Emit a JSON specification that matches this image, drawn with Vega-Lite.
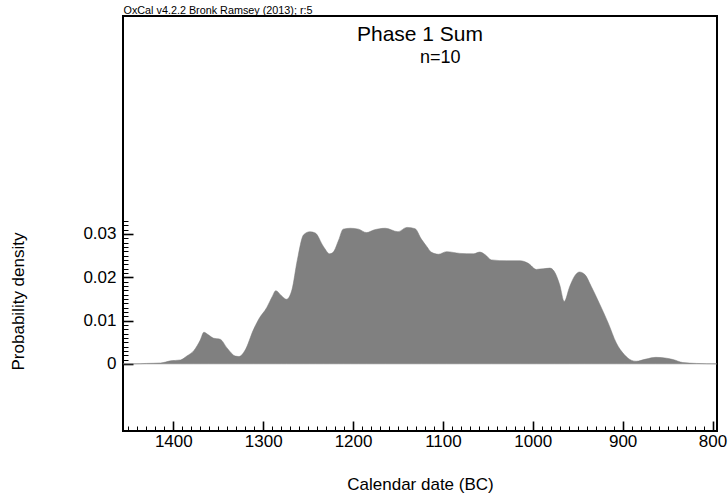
{
  "$schema": "https://vega.github.io/schema/vega-lite/v6.json",
  "width": 594,
  "height": 415,
  "autosize": {"type": "none"},
  "padding": {"left": 123, "top": 16, "right": 11, "bottom": 66},
  "background": "white",
  "config": {
    "font": "Liberation Sans",
    "view": {"stroke": "black", "strokeWidth": 2},
    "axis": {"grid": false, "labelColor": "black", "titleColor": "black", "tickColor": "black", "domain": false, "labelFont": "Liberation Sans", "titleFont": "Liberation Sans", "titleFontWeight": "normal"}
  },
  "title": {
    "text": "Phase 1 Sum",
    "frame": "group",
    "anchor": "middle",
    "orient": "top",
    "baseline": "alphabetic",
    "offset": -58,
    "font": "Liberation Sans",
    "fontSize": 21,
    "fontWeight": "normal",
    "color": "black"
  },
  "data": {"values": [
    {"year": 1456, "density": 0},
    {"year": 1444, "density": 0},
    {"year": 1430, "density": 0.0001},
    {"year": 1414, "density": 0.0002},
    {"year": 1403, "density": 0.0007},
    {"year": 1392, "density": 0.0009},
    {"year": 1385, "density": 0.0018},
    {"year": 1377, "density": 0.0031},
    {"year": 1370, "density": 0.0055},
    {"year": 1366, "density": 0.0073},
    {"year": 1361, "density": 0.0067},
    {"year": 1355, "density": 0.0059},
    {"year": 1348, "density": 0.0057},
    {"year": 1340, "density": 0.0036},
    {"year": 1331, "density": 0.0018},
    {"year": 1327, "density": 0.0017},
    {"year": 1320, "density": 0.0032},
    {"year": 1311, "density": 0.0078},
    {"year": 1305, "density": 0.0103},
    {"year": 1296, "density": 0.013},
    {"year": 1290, "density": 0.0155},
    {"year": 1286, "density": 0.0169},
    {"year": 1280, "density": 0.0158},
    {"year": 1274, "density": 0.0149},
    {"year": 1268, "density": 0.0171},
    {"year": 1262, "density": 0.024},
    {"year": 1255, "density": 0.0298},
    {"year": 1248, "density": 0.0305},
    {"year": 1242, "density": 0.0302},
    {"year": 1233, "density": 0.0271},
    {"year": 1226, "density": 0.0254},
    {"year": 1222, "density": 0.0258},
    {"year": 1216, "density": 0.0286},
    {"year": 1211, "density": 0.0311},
    {"year": 1203, "density": 0.0313},
    {"year": 1194, "density": 0.0311},
    {"year": 1185, "density": 0.0303},
    {"year": 1177, "density": 0.0309},
    {"year": 1164, "density": 0.0313},
    {"year": 1150, "density": 0.0305},
    {"year": 1140, "density": 0.0315},
    {"year": 1131, "density": 0.0312},
    {"year": 1124, "density": 0.0288},
    {"year": 1118, "density": 0.0271},
    {"year": 1113, "density": 0.0258},
    {"year": 1105, "density": 0.0253},
    {"year": 1096, "density": 0.0259},
    {"year": 1081, "density": 0.0255},
    {"year": 1066, "density": 0.0254},
    {"year": 1059, "density": 0.0258},
    {"year": 1053, "density": 0.0252},
    {"year": 1046, "density": 0.024},
    {"year": 1029, "density": 0.0238},
    {"year": 1014, "density": 0.0238},
    {"year": 1005, "density": 0.0232},
    {"year": 996, "density": 0.0218},
    {"year": 981, "density": 0.0221},
    {"year": 976, "density": 0.0213},
    {"year": 970, "density": 0.0182},
    {"year": 965, "density": 0.0144},
    {"year": 959, "density": 0.0178},
    {"year": 953, "density": 0.0204},
    {"year": 948, "density": 0.0212},
    {"year": 942, "density": 0.0206},
    {"year": 935, "density": 0.0179},
    {"year": 926, "density": 0.014},
    {"year": 916, "density": 0.0094},
    {"year": 907, "density": 0.0048},
    {"year": 898, "density": 0.0021},
    {"year": 890, "density": 0.0008},
    {"year": 885, "density": 0.0006},
    {"year": 874, "density": 0.0011},
    {"year": 863, "density": 0.0015},
    {"year": 851, "density": 0.0013},
    {"year": 844, "density": 0.001},
    {"year": 833, "density": 0.0003},
    {"year": 818, "density": 0.0001},
    {"year": 795, "density": 0}
  ]},
  "layer": [
    {
      "mark": {"type": "area", "color": "#808080", "interpolate": "monotone", "stroke": "#777777", "strokeWidth": 0.5},
      "encoding": {
        "x": {
          "field": "year", "type": "quantitative",
          "scale": {"domain": [795, 1456], "reverse": true, "nice": false, "zero": false},
          "axis": {
            "orient": "bottom",
            "offset": -10,
            "values": [1400, 1300, 1200, 1100, 1000, 900, 800],
            "format": "d",
            "tickSize": 10,
            "tickWidth": 1.6,
            "labelPadding": 2,
            "labelFontSize": 17,
            "title": "Calendar date (BC)",
            "titleFontSize": 17,
            "titleY": 63,
            "titleBaseline": "middle"
          }
        },
        "y": {
          "field": "density", "type": "quantitative",
          "scale": {"domain": [-0.0155, 0.0803], "nice": false, "zero": false},
          "axis": {
            "orient": "left",
            "offset": -10,
            "values": [0, 0.01, 0.02, 0.03],
            "format": ".2~f",
            "tickSize": 10,
            "tickWidth": 1.6,
            "labelPadding": 7,
            "labelFontSize": 17,
            "title": "Probability density",
            "titleFontSize": 17,
            "titleAngle": -90,
            "titleX": -115,
            "titleY": 285,
            "titleAlign": "center",
            "titleBaseline": "middle"
          }
        }
      }
    },
    {
      "data": {"values": [{}]},
      "mark": {"type": "rule", "opacity": 0},
      "encoding": {
        "x": {
          "datum": 1000, "type": "quantitative",
          "scale": {"domain": [795, 1456], "reverse": true, "nice": false, "zero": false},
          "axis": {
            "orient": "bottom",
            "offset": -5,
            "values": [1450,1440,1430,1420,1410,1390,1380,1370,1360,1350,1340,1330,1320,1310,1290,1280,1270,1260,1250,1240,1230,1220,1210,1190,1180,1170,1160,1150,1140,1130,1120,1110,1090,1080,1070,1060,1050,1040,1030,1020,1010,990,980,970,960,950,940,930,920,910,890,880,870,860,850,840,830,820,810],
            "labels": false,
            "tickSize": 5,
            "tickWidth": 1,
            "title": null
          }
        },
        "y": {
          "datum": 0, "type": "quantitative",
          "scale": {"domain": [-0.0155, 0.0803], "nice": false, "zero": false},
          "axis": {
            "orient": "left",
            "offset": -5,
            "values": [0.001,0.002,0.003,0.004,0.005,0.006,0.007,0.008,0.009,0.011,0.012,0.013,0.014,0.015,0.016,0.017,0.018,0.019,0.021,0.022,0.023,0.024,0.025,0.026,0.027,0.028,0.029,0.031,0.032,0.033],
            "labels": false,
            "tickSize": 5,
            "tickWidth": 1,
            "title": null
          }
        }
      }
    },
    {
      "data": {"values": [{}]},
      "mark": {"type": "text", "fontSize": 18, "font": "Liberation Sans", "align": "center", "baseline": "alphabetic", "color": "black"},
      "encoding": {
        "x": {
          "datum": 1103, "type": "quantitative",
          "scale": {"domain": [795, 1456], "reverse": true, "nice": false, "zero": false},
          "axis": {
            "orient": "top",
            "offset": 0,
            "labels": false,
            "ticks": false,
            "domain": false,
            "title": "OxCal v4.2.2 Bronk Ramsey (2013); r:5",
            "titleFontSize": 10.8,
            "titleX": 0,
            "titleY": -3,
            "titleAlign": "left",
            "titleBaseline": "alphabetic",
            "titleAnchor": "start"
          }
        },
        "y": {
          "datum": 0.0695, "type": "quantitative",
          "scale": {"domain": [-0.0155, 0.0803], "nice": false, "zero": false},
          "axis": null
        },
        "text": {"value": "n=10"}
      }
    }
  ],
  "resolve": {"axis": {"x": "independent", "y": "independent"}}
}
